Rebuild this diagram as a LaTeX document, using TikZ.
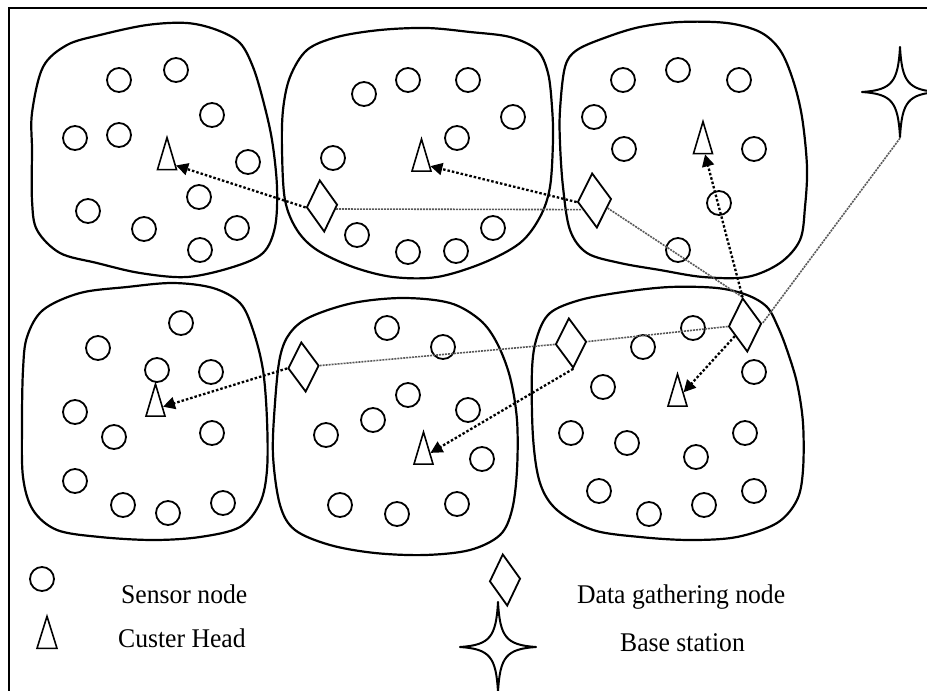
\documentclass[tikz,border=0pt]{standalone}
\usepackage{fontspec}
\setmainfont{Liberation Serif}
\usetikzlibrary{arrows.meta,shapes.geometric}

\tikzset{
  blob/.style={line width=2.2pt, line join=round},
  sensor/.style={draw, circle, minimum size=24pt, inner sep=0pt, line width=1.8pt},
  head/.style={draw, isosceles triangle, isosceles triangle stretches=true,
    shape border rotate=90, minimum width=19pt, minimum height=32pt,
    inner sep=0pt, line width=1.6pt},
  gather/.style={draw, diamond, minimum width=31pt, minimum height=52pt,
    inner sep=0pt, line width=1.8pt, rotate=5},
  station/.style={minimum width=78pt, minimum height=92pt, inner sep=0pt},
  arr/.style={line width=2.3pt, dash pattern=on 2.5pt off 2pt,
    -{Triangle[length=12pt,width=12pt]}},
  link/.style={line width=1.6pt, black!65, dash pattern=on 2pt off 1pt},
  legendtext/.style={font=\fontsize{27}{32}\selectfont, anchor=base west, inner sep=0pt},
  basestar/.pic={
    \draw[line width=2pt, line join=round]
      (0,-45) .. controls (2,-10) and (8,-2) .. (38,0)
              .. controls (8,2) and (2,10) .. (0,45)
              .. controls (-2,10) and (-8,2) .. (-38,0)
              .. controls (-8,-2) and (-2,-10) .. cycle;
  }
}
\newcommand\legendlabel[1]{\scalebox{0.95}[1]{#1}}

\begin{document}
\begin{tikzpicture}[x=1pt,y=-1pt]
\useasboundingbox (0,0) rectangle (927,691);
\clip (0,0) rectangle (927,691);
\fill[white] (0,0) rectangle (927,691);

% outer frame
\draw[line width=2.5pt] (9,8) rectangle (960,720);

% cluster outlines
\draw[blob] plot[smooth cycle, tension=0.55] coordinates {
  (32,113) (43,67) (67,45) (100,35) (147,25) (187,23) (217,30) (240,43)
  (253,67) (263,100) (272,140) (277,187) (275,227) (263,253) (233,267)
  (187,277) (140,273) (97,263) (60,253) (37,230) (32,200) (32,150)};
\draw[blob] plot[smooth cycle, tension=0.55] coordinates {
  (283,110) (290,77) (307,50) (337,37) (380,30) (427,28) (470,32) (510,37)
  (537,50) (548,73) (552,107) (553,140) (550,187) (540,217) (520,243)
  (483,263) (437,277) (393,277) (353,267) (317,250) (297,230) (285,200) (282,150)};
\draw[blob] plot[smooth cycle, tension=0.55] coordinates {
  (560,110) (565,67) (577,50) (607,37) (640,27) (680,22) (727,23) (760,32)
  (780,50) (793,80) (802,117) (807,167) (805,207) (800,240) (780,263)
  (747,277) (703,277) (660,270) (620,263) (587,253) (570,230) (563,187) (560,143)};
\draw[blob] plot[smooth cycle, tension=0.55] coordinates {
  (23,370) (27,337) (43,310) (80,293) (127,287) (173,283) (213,288) (240,303)
  (253,330) (263,370) (267,420) (267,470) (260,503) (240,527) (200,537)
  (153,540) (100,537) (57,530) (33,510) (23,477) (22,423)};
\draw[blob] plot[smooth cycle, tension=0.55] coordinates {
  (275,403) (280,357) (290,333) (310,317) (353,303) (403,298) (450,303)
  (480,320) (497,343) (510,377) (517,420) (517,470) (512,510) (500,535)
  (470,550) (425,555) (375,553) (330,545) (295,530) (280,505) (273,455)};
\draw[blob] plot[smooth cycle, tension=0.55] coordinates {
  (532,370) (537,337) (550,313) (580,300) (623,292) (670,287) (717,288)
  (747,295) (767,307) (778,327) (787,350) (797,383) (803,423) (803,470)
  (797,500) (777,523) (737,537) (690,540) (640,537) (593,530) (557,510)
  (540,483) (533,437)};

% sensor nodes, top row
\foreach \x/\y [count=\i] in {119/80,176/70,212/115,75/138,119/135,248/162,
  199/197,88/211,144/229,237/228,200/250}
  \node[sensor] (sA\i) at (\x,\y) {};
\foreach \x/\y [count=\i] in {364/94,408/80,468/80,513/117,457/138,333/158,
  357/235,408/252,456/251,493/228}
  \node[sensor] (sB\i) at (\x,\y) {};
\foreach \x/\y [count=\i] in {623/80,678/70,739/80,594/117,624/149,754/149,
  719/203,678/250}
  \node[sensor] (sC\i) at (\x,\y) {};
% sensor nodes, bottom row
\foreach \x/\y [count=\i] in {181/323,98/348,157/370,211/372,75/412,114/437,
  212/433,75/481,123/505,168/513,223/503}
  \node[sensor] (sD\i) at (\x,\y) {};
\foreach \x/\y [count=\i] in {387/328,443/347,408/395,373/420,468/410,326/435,
  482/459,340/505,397/514,457/504}
  \node[sensor] (sE\i) at (\x,\y) {};
\foreach \x/\y [count=\i] in {693/328,643/347,754/372,603/387,571/433,627/443,
  745/433,696/457,599/491,754/491,649/514,704/505}
  \node[sensor] (sF\i) at (\x,\y) {};

% cluster heads
\node[head] (chTL) at (167,162.5) {};
\node[head] (chTM) at (421.5,164) {};
\node[head] (chTR) at (703,146.5) {};
\node[head] (chBL) at (155.5,409) {};
\node[head] (chBM) at (423.5,457) {};
\node[head] (chBR) at (677.5,399) {};

% data gathering nodes
\node[gather] (dTM) at (322,206) {};
\node[gather, minimum width=34pt, minimum height=55pt] (dTR) at (594.5,200.5) {};
\node[gather, minimum width=33pt, minimum height=54pt] (dBRR) at (745,325) {};
\node[gather, minimum height=50pt] (dBRL) at (571,343) {};
\node[gather, minimum height=50pt] (dBM) at (303.5,367) {};

% base station
\node[station] (bs) at (900,92) {};
\pic at (bs) {basestar};

% links between gathering nodes
\draw[link] (dTM.-17) -- (dTR.212);
\draw[link] (dTR.-35) -- (dBRR.north);
\draw[link] (bs.south) -- (dBRR.east);
\draw[link] (dBRR.west) -- (dBRL.east);
\draw[link] (dBRL.west) -- (dBM.east);

% data forwarded to cluster heads
\draw[arr] (dTM.west) -- (chTL);
\draw[arr] (dTR.west) -- (chTM);
\draw[arr] (dBRR.north) -- (chTR);
\draw[arr] (dBRR) -- (chBR);
\draw[arr] (dBRL.south) -- (chBM);
\draw[arr] (dBM.west) -- (chBL);

% legend
\node[sensor] (lgS) at (42,579) {};
\node[head, minimum width=20pt] (lgC) at (47,641) {};
\node[gather] (lgD) at (505,580) {};
\node[station] (lgB) at (498,647) {};
\pic at (lgB) {basestar};
\node[legendtext] (tS) at (121,603) {\legendlabel{Sensor node}};
\node[legendtext] (tC) at (118,647) {\legendlabel{Custer Head}};
\node[legendtext] (tD) at (577,603) {\legendlabel{Data gathering node}};
\node[legendtext] (tB) at (620,651) {\legendlabel{Base station}};
\end{tikzpicture}
\end{document}
